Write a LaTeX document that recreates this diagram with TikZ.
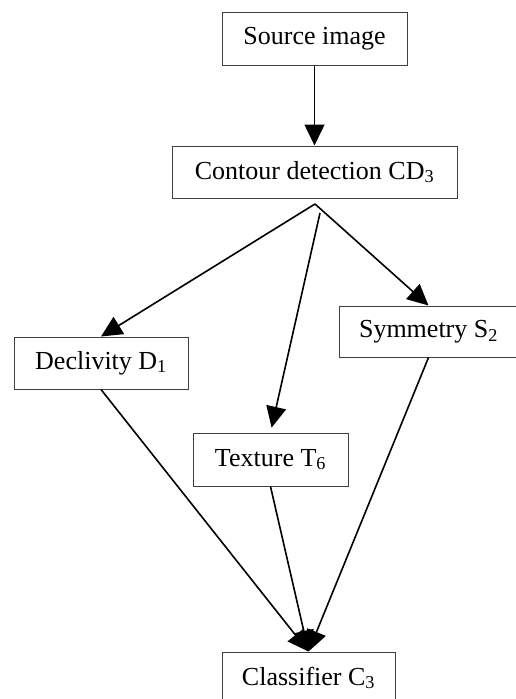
\documentclass[tikz,border=0pt]{standalone}
\usepackage{fontspec}
\setmainfont{Liberation Serif}
\usetikzlibrary{arrows.meta}
\begin{document}
\begin{tikzpicture}[x=1pt,y=-1pt,
  box/.style={draw=black!75, line width=1pt, fill=white, minimum width=#1, minimum height=52pt, inner sep=0pt, font=\fontsize{26}{30}\selectfont},
  conn/.style={line width=1.6pt, -{Triangle[length=21pt,width=20pt]}}]
\useasboundingbox (0,0) rectangle (515,699);
\node[box=185pt, minimum height=53pt] (src) at (314.5,38.5) {Source image};
\node[box=285pt] (cd) at (314.5,172) {Contour detection CD\textsubscript{3}};
\node[box=174pt] (dec) at (101,363) {Declivity D\textsubscript{1}};
\node[box=179pt, minimum height=51pt] (sym) at (428.5,331.5) {Symmetry S\textsubscript{2}};
\node[box=155pt, minimum height=53pt] (tex) at (270.5,459.5) {Texture T\textsubscript{6}};
\node[box=173pt] (cls) at (308.5,678) {Classifier C\textsubscript{3}};
\coordinate (apex) at (315,204);
\coordinate (t0) at (320,213);
\draw[conn] (src.south) -- (cd.north);
\draw[conn] (apex) -- (dec.north);
\draw[conn] (apex) -- (sym.north);
\draw[conn, shorten >=5pt] (t0) -- (tex.north);
\draw[conn] (dec.south) -- (cls.north);
\draw[conn] (tex.south) -- (cls.north);
\draw[conn] (sym.south) -- (cls.north);
\end{tikzpicture}
\end{document}
